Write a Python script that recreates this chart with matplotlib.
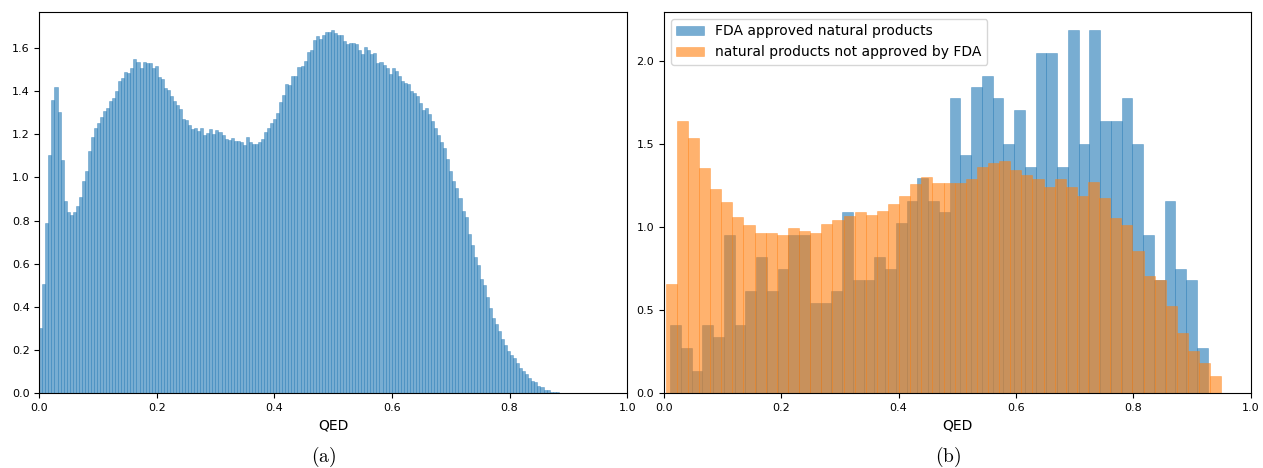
import matplotlib
matplotlib.use("Agg")
import matplotlib.pyplot as plt
import numpy as np

# (a) QED density of the whole set, 180 equal bins over [0, 0.93]
all_range = (0.0, 0.93)
all_density = [
    0.304, 0.508, 0.790, 1.104, 1.358, 1.419, 1.304, 1.081, 0.892, 0.841,
    0.826, 0.841, 0.869, 0.910, 0.984, 1.031, 1.123, 1.188, 1.229, 1.252,
    1.280, 1.307, 1.321, 1.354, 1.368, 1.400, 1.446, 1.460, 1.488, 1.483,
    1.506, 1.548, 1.534, 1.506, 1.534, 1.530, 1.530, 1.506, 1.516, 1.465,
    1.456, 1.414, 1.405, 1.377, 1.354, 1.335, 1.317, 1.271, 1.266, 1.243,
    1.225, 1.229, 1.215, 1.229, 1.197, 1.206, 1.225, 1.201, 1.220, 1.211,
    1.197, 1.178, 1.174, 1.183, 1.169, 1.169, 1.165, 1.151, 1.188, 1.165,
    1.155, 1.155, 1.165, 1.178, 1.211, 1.229, 1.252, 1.271, 1.299, 1.349,
    1.382, 1.433, 1.428, 1.470, 1.470, 1.511, 1.516, 1.539, 1.580, 1.590,
    1.636, 1.654, 1.641, 1.659, 1.673, 1.673, 1.682, 1.668, 1.659, 1.659,
    1.631, 1.617, 1.622, 1.622, 1.617, 1.590, 1.571, 1.603, 1.590, 1.571,
    1.576, 1.530, 1.534, 1.520, 1.506, 1.479, 1.506, 1.493, 1.470, 1.446,
    1.437, 1.433, 1.400, 1.391, 1.377, 1.345, 1.312, 1.322, 1.294, 1.262,
    1.229, 1.197, 1.165, 1.137, 1.086, 1.030, 0.984, 0.952, 0.906, 0.846,
    0.818, 0.739, 0.689, 0.633, 0.596, 0.531, 0.504, 0.448, 0.397, 0.351,
    0.323, 0.287, 0.254, 0.226, 0.199, 0.180, 0.166, 0.139, 0.120, 0.106,
    0.092, 0.074, 0.060, 0.051, 0.037, 0.028, 0.018, 0.014, 0.009, 0.006,
    0.005, 0.004, 0.003, 0.002, 0.0015, 0.001, 0.001, 0.0007, 0.0004, 0.0002,
]

# (b) FDA approved vs. not approved natural products, 50 bins each
fda_range = (0.0103, 0.9268)
fda_density = [
    0.411, 0.273, 0.135, 0.411, 0.339, 0.952, 0.411, 0.616, 0.820, 0.616,
    0.748, 0.952, 0.952, 0.544, 0.544, 0.616, 1.090, 0.682, 0.682, 0.820,
    0.748, 1.024, 1.156, 1.294, 1.156, 1.090, 1.775, 1.432, 1.841, 1.907,
    1.775, 1.498, 1.703, 1.360, 2.045, 2.045, 1.360, 2.183, 1.498, 2.183,
    1.637, 1.637, 1.775, 1.498, 0.952, 0.682, 1.156, 0.748, 0.682, 0.273,
]
nonfda_range = (0.003, 0.950)
nonfda_density = [
    0.658, 1.637, 1.536, 1.354, 1.228, 1.150, 1.060, 1.012, 0.964, 0.964,
    0.952, 0.994, 0.976, 0.964, 1.018, 1.042, 1.066, 1.090, 1.072, 1.096,
    1.138, 1.186, 1.258, 1.300, 1.264, 1.264, 1.264, 1.288, 1.360, 1.384,
    1.396, 1.342, 1.312, 1.288, 1.240, 1.288, 1.240, 1.186, 1.270, 1.174,
    1.054, 1.012, 0.856, 0.706, 0.682, 0.526, 0.363, 0.255, 0.183, 0.105,
]
labels = ["FDA approved natural products", "natural products not approved by FDA"]


def density_hist(ax, lo_hi, heights, color, **kw):
    edges = np.linspace(lo_hi[0], lo_hi[1], len(heights) + 1)
    centers = (edges[:-1] + edges[1:]) / 2
    ax.hist(centers, bins=edges, weights=heights, alpha=0.6, color=color,
            edgecolor=color, linewidth=0.4, **kw)


plt.rcParams["mathtext.fontset"] = "cm"
fig = plt.figure(figsize=(12.63, 4.68), dpi=100)
ax1 = fig.add_axes([0.0311, 0.1592, 0.4655, 0.8152])
ax2 = fig.add_axes([0.5257, 0.1592, 0.4645, 0.8152])

density_hist(ax1, all_range, all_density, "C0")
density_hist(ax2, fda_range, fda_density, "C0", label=labels[0])
density_hist(ax2, nonfda_range, nonfda_density, "C1", label=labels[1])

for ax in (ax1, ax2):
    ax.set_xlim(0, 1)
    ax.set_xlabel("QED", fontsize=10)
    ax.tick_params(labelsize=8)
ax2.set_yticks([0.0, 0.5, 1.0, 1.5, 2.0])
ax2.legend(loc="upper left", fontsize=10)

fig.text(0.2558, 0.012, r"$\mathrm{(a)}$", ha="center", fontsize=14)
fig.text(0.7505, 0.012, r"$\mathrm{(b)}$", ha="center", fontsize=14)

fig.savefig("out.png", dpi=100)
